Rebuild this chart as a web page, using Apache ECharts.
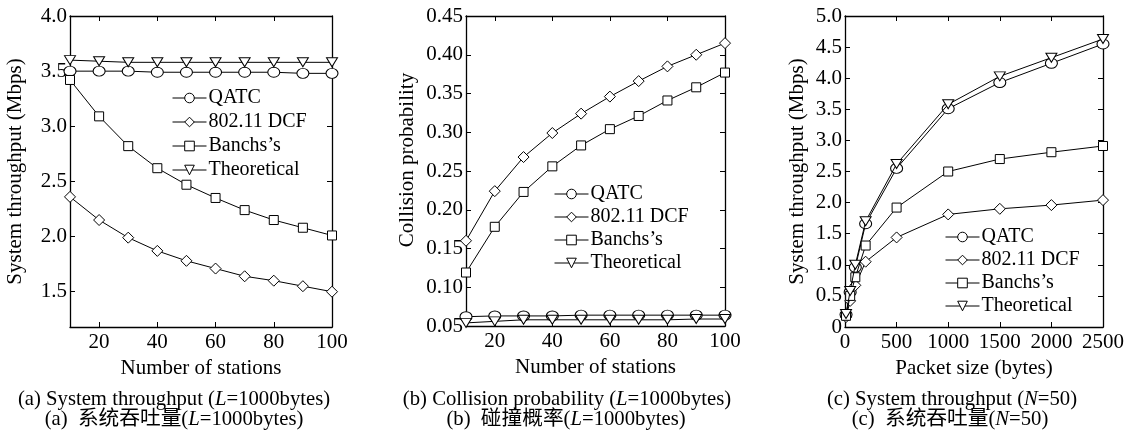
<!DOCTYPE html>
<html>
<head>
<meta charset="utf-8">
<script src="https://cdn.jsdelivr.net/npm/echarts@6/dist/echarts.min.js"></script>
<style>html,body{margin:0;padding:0;background:#fff}#c{width:1127px;height:439px}</style>
</head>
<body>
<div id="c"></div>
<script>
// ---- data ----
const stations = [10, 20, 30, 40, 50, 60, 70, 80, 90, 100];
const thrQATC = [3.50, 3.50, 3.50, 3.49, 3.49, 3.49, 3.49, 3.49, 3.48, 3.48];
const thrDCF = [2.36, 2.15, 1.99, 1.87, 1.78, 1.71, 1.64, 1.60, 1.55, 1.50];
const thrBanchs = [3.42, 3.09, 2.82, 2.62, 2.47, 2.35, 2.24, 2.15, 2.08, 2.01];
const thrTheo = [3.60, 3.59, 3.58, 3.58, 3.58, 3.58, 3.58, 3.58, 3.58, 3.58];

const colQATC = [0.062, 0.063, 0.063, 0.063, 0.064, 0.064, 0.064, 0.064, 0.064, 0.064];
const colDCF = [0.160, 0.224, 0.268, 0.299, 0.324, 0.346, 0.366, 0.385, 0.400, 0.415];
const colBanchs = [0.119, 0.178, 0.223, 0.256, 0.283, 0.304, 0.321, 0.341, 0.358, 0.377];
const colTheo = [0.054, 0.056, 0.058, 0.058, 0.058, 0.058, 0.058, 0.058, 0.059, 0.059];

const packetSizes = [10, 50, 100, 200, 500, 1000, 1500, 2000, 2500];
const pkQATC = [0.20, 0.56, 0.96, 1.66, 2.55, 3.51, 3.93, 4.24, 4.55];
const pkDCF = [0.16, 0.42, 0.67, 1.05, 1.44, 1.81, 1.90, 1.96, 2.04];
const pkBanchs = [0.18, 0.50, 0.80, 1.31, 1.92, 2.50, 2.70, 2.81, 2.91];
const pkTheo = [0.21, 0.58, 1.00, 1.70, 2.62, 3.58, 4.03, 4.33, 4.63];

const stationTicks = [20, 40, 60, 80, 100];
const thrTicks = [1.5, 2.0, 2.5, 3.0, 3.5, 4.0];

const seriesNames = ['QATC', '802.11 DCF', 'Banchs\u2019s', 'Theoretical'];
const captions = [
  ['{n|(a) System throughput (}{i|L}{n|=1000bytes)}', '{n|(a)  \u7cfb\u7edf\u541e\u5410\u91cf(}{i|L}{n|=1000bytes)}'],
  ['{n|(b) Collision probability (}{i|L}{n|=1000bytes)}', '{n|(b)  \u78b0\u649e\u6982\u7387(}{i|L}{n|=1000bytes)}'],
  ['{n|(c) System throughput (}{i|N}{n|=50)}', '{n|(c)  \u7cfb\u7edf\u541e\u5410\u91cf(}{i|N}{n|=50)}']
];

// ---- styling ----
const FONT = '"Liberation Serif", "Times New Roman", serif';
const CJK = '"Liberation Serif", "Noto Sans CJK SC", serif';
const FS = 21;
const symbols = [
  {symbol: 'circle', size: [12, 10], rot: 0},
  {symbol: 'diamond', size: [11, 11], rot: 0},
  {symbol: 'rect', size: [9, 9], rot: 0},
  {symbol: 'triangle', size: [11, 9], rot: 180}
];
const grids = [
  {left: 70, top: 16, width: 262, height: 311},
  {left: 466, top: 16, width: 259, height: 310},
  {left: 845, top: 16, width: 264, height: 311}
];

function xAx(gi, pos, cfg) {
  const main = pos === 'bottom';
  const o = {
    type: 'value', gridIndex: gi, position: pos, min: cfg.min, max: cfg.max,
    axisLine: {show: true, onZero: false, lineStyle: {color: '#000', width: 1.3}},
    axisTick: {show: true, inside: true, length: 5, lineStyle: {color: '#000', width: 1}},
    axisLabel: {show: main, color: '#000', fontFamily: FONT, fontSize: FS, margin: 5, formatter: v => String(v)},
    splitLine: {show: false}
  };
  if (cfg.interval) o.interval = cfg.interval;
  if (cfg.custom) { o.axisTick.customValues = cfg.custom; o.axisLabel.customValues = cfg.custom; }
  if (main && cfg.name) {
    o.name = cfg.name; o.nameLocation = 'middle'; o.nameGap = 31;
    o.nameTextStyle = {color: '#000', fontFamily: FONT, fontSize: FS};
  }
  return o;
}
function yAx(gi, pos, cfg) {
  const main = pos === 'left';
  const o = {
    type: 'value', gridIndex: gi, position: pos, min: cfg.min, max: cfg.max,
    axisLine: {show: true, onZero: false, lineStyle: {color: '#000', width: 1.3}},
    axisTick: {show: true, inside: true, length: 5, lineStyle: {color: '#000', width: 1}},
    axisLabel: {show: main, color: '#000', fontFamily: FONT, fontSize: FS, margin: 3, formatter: cfg.fmt},
    splitLine: {show: false}
  };
  if (cfg.interval) o.interval = cfg.interval;
  if (cfg.custom) { o.axisTick.customValues = cfg.custom; o.axisLabel.customValues = cfg.custom; }
  if (main && cfg.name) {
    o.name = cfg.name; o.nameLocation = 'middle'; o.nameGap = cfg.gap; o.nameRotate = 90;
    o.nameTextStyle = {color: '#000', fontFamily: FONT, fontSize: FS, padding: cfg.pad || 0};
  }
  return o;
}

const xCfg = [
  {min: 10, max: 100, custom: stationTicks, name: 'Number of stations'},
  {min: 10, max: 100, custom: stationTicks, name: 'Number of stations'},
  {min: 0, max: 2500, interval: 500, name: 'Packet size (bytes)'}
];
const yCfg = [
  {min: 1.18, max: 4.0, custom: thrTicks, fmt: v => v.toFixed(1), name: 'System throughput (Mbps)', gap: 44},
  {min: 0.05, max: 0.45, interval: 0.05, fmt: v => v.toFixed(2), name: 'Collision probability', gap: 48, pad: [0, 0, 0, 22]},
  {min: 0, max: 5, interval: 0.5, fmt: v => v === 0 ? '0' : v.toFixed(1), name: 'System throughput (Mbps)', gap: 37}
];

const xAxis = [], yAxis = [];
for (let g = 0; g < 3; g++) {
  xAxis.push(xAx(g, 'bottom', xCfg[g]));
  xAxis.push(xAx(g, 'top', xCfg[g]));
  yAxis.push(yAx(g, 'left', yCfg[g]));
  yAxis.push(yAx(g, 'right', yCfg[g]));
}

const panelData = [
  {x: stations, ys: [thrQATC, thrDCF, thrBanchs, thrTheo]},
  {x: stations, ys: [colQATC, colDCF, colBanchs, colTheo]},
  {x: packetSizes, ys: [pkQATC, pkDCF, pkBanchs, pkTheo]}
];
const series = [];
panelData.forEach((p, g) => {
  p.ys.forEach((ys, k) => {
    series.push({
      type: 'line', name: seriesNames[k], xAxisIndex: g * 2, yAxisIndex: g * 2,
      data: p.x.map((xv, i) => [xv, ys[i]]),
      symbol: symbols[k].symbol, symbolSize: symbols[k].size, symbolRotate: symbols[k].rot,
      showAllSymbol: true, clip: false,
      lineStyle: {color: '#000', width: 1},
      itemStyle: {color: '#fff', borderColor: '#000', borderWidth: 1},
      emphasis: {disabled: true}, animation: false, z: 2 + k
    });
  });
});

const legendPos = [{left: 172, top: 88, gap: 4}, {left: 554, top: 184, gap: 3}, {left: 945, top: 227, gap: 3}];
const legend = legendPos.map(lp => ({
  orient: 'vertical', left: lp.left, top: lp.top, itemGap: lp.gap, padding: 0,
  itemWidth: 34, itemHeight: 12, selectedMode: false,
  data: seriesNames,
  itemStyle: {color: '#fff', borderColor: '#000', borderWidth: 1},
  lineStyle: {color: '#000', width: 1},
  textStyle: {color: '#000', fontFamily: FONT, fontSize: 20, padding: [0, 0, 0, -3]},
  backgroundColor: 'transparent'
}));

const capX = [[174, 174], [567, 566], [952, 950]];
const graphic = [];
captions.forEach((c, i) => {
  [0, 1].forEach(j => {
    graphic.push({
      type: 'text', x: capX[i][j], y: j === 0 ? 400 : 420,
      style: {
        text: c[j], align: 'center', verticalAlign: 'middle',
        rich: {
          n: {fontFamily: j === 0 ? FONT : CJK, fontSize: 20.7, fill: '#000'},
          i: {fontFamily: FONT, fontSize: 20.7, fontStyle: 'italic', fill: '#000'}
        }
      }
    });
  });
});

const chart = echarts.init(document.getElementById('c'), null, {renderer: 'canvas'});
chart.setOption({
  backgroundColor: '#fff', animation: false,
  grid: grids, xAxis, yAxis, series, legend, graphic
});
</script>
</body>
</html>
